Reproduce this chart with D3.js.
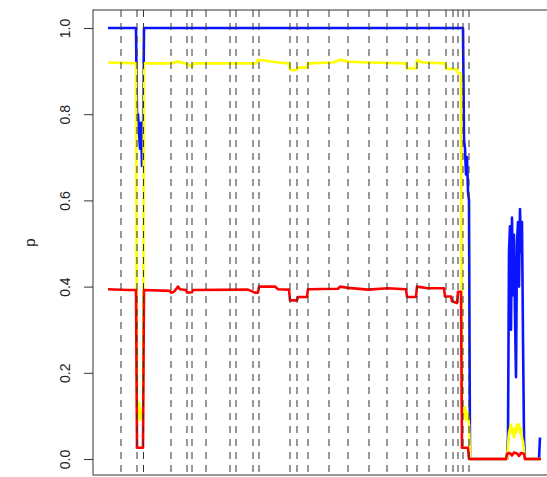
<!DOCTYPE html>
<html lang="en">
<head>
  <meta charset="UTF-8">
  <title>p over time</title>
  <script src="https://d3js.org/d3.v7.min.js"></script>
  <style>
    body { margin: 0; background: #fff; }
    svg { display: block; font-family: "Liberation Sans", Arial, sans-serif; }
  </style>
</head>
<body>
  <svg id="chart" width="547" height="477"></svg>
  <script>
    // series values as [index, p] pairs
    const bluePts = [
      [0, 1], [28, 1], [29, 0.79], [30, 0.80], [31, 0.76], [32, 0.72], [33, 0.78], [34, 0.68], [35, 0.74], [36, 1],
      [354, 1], [355, 1], [356, 0.74], [357, 0.72], [358, 0.66], [359, 0.70], [360, 0.62], [361, 0.60], [362, 0],
      [399, 0], [400, 0.05], [401, 0.48], [402, 0.54], [403, 0.30], [404, 0.56], [405, 0.38], [406, 0.52], [407, 0.33],
      [408, 0.19], [409, 0.50], [410, 0.55], [411, 0.40], [412, 0.58], [413, 0.48], [414, 0.55], [415, 0.28],
      [416, 0.05], [417, 0], [431, 0], [432, 0.05]
    ];
    const yellowPts = [
      [0, 0.92], [28, 0.918], [29, 0.12], [30, 0.10], [31, 0.13], [32, 0.09], [33, 0.11], [34, 0.10], [35, 0.12], [36, 0.918],
      [62, 0.918], [70, 0.922], [80, 0.916], [84, 0.91], [86, 0.918], [148, 0.918], [150, 0.926], [158, 0.924], [170, 0.92],
      [181, 0.918], [182, 0.903], [188, 0.902], [190, 0.908], [199, 0.908], [200, 0.918], [225, 0.92], [232, 0.926],
      [240, 0.922], [260, 0.92], [298, 0.918], [299, 0.906], [308, 0.906], [309, 0.925], [315, 0.92], [337, 0.918],
      [338, 0.906], [349, 0.904], [350, 0.896], [353, 0.894], [354, 0.12], [356, 0.10], [357, 0.12], [358, 0.09],
      [359, 0.11], [360, 0.10], [361, 0.08], [362, 0], [399, 0], [400, 0.03], [401, 0.06], [402, 0.07], [403, 0.08],
      [404, 0.06], [405, 0.07], [406, 0.05], [407, 0.07], [408, 0.06], [409, 0.08], [410, 0.07], [411, 0.08],
      [412, 0.06], [413, 0.07], [414, 0.05], [415, 0.04], [416, 0.02], [417, 0], [433, 0]
    ];
    const redPts = [
      [0, 0.394], [20, 0.392], [28, 0.392], [29, 0.026], [35, 0.026], [36, 0.392], [62, 0.39], [63, 0.386], [66, 0.388],
      [70, 0.40], [72, 0.394], [78, 0.392], [79, 0.386], [84, 0.387], [85, 0.392], [140, 0.393], [147, 0.386],
      [150, 0.386], [151, 0.40], [167, 0.40], [170, 0.394], [181, 0.393], [182, 0.368], [189, 0.368], [190, 0.376],
      [199, 0.376], [200, 0.394], [230, 0.395], [232, 0.40], [240, 0.397], [260, 0.393], [280, 0.396], [298, 0.394],
      [299, 0.376], [308, 0.376], [309, 0.40], [320, 0.396], [336, 0.396], [337, 0.377], [343, 0.377], [344, 0.366],
      [349, 0.362], [350, 0.388], [353, 0.388], [354, 0.026], [360, 0.026], [361, 0], [398, 0], [399, 0.012],
      [402, 0.014], [404, 0.008], [406, 0.015], [409, 0.013], [411, 0.007], [413, 0.014], [416, 0.012], [417, 0], [433, 0]
    ];
    // change points drawn as dashed verticals
    const cutPoints = [13, 29, 35.5, 63, 79, 84, 98, 122, 128, 145, 151, 182, 189, 200, 221, 240, 261, 279,
      299, 309, 321, 338, 345, 350, 355, 361];
    const yTicks = [0, 0.2, 0.4, 0.6, 0.8, 1.0];

    const seriesList = [
      { pts: bluePts, color: "#0a14ff" },
      { pts: yellowPts, color: "#ffff00" },
      { pts: redPts, color: "#ff0000" }
    ];

    const box = { left: 93, top: 10, bottom: 475, right: 600 };
    const svg = d3.select("#chart");

    const xScale = d3.scaleLinear().domain([0, 433]).range([108, 541]);
    const yScale = d3.scaleLinear().domain([0, 1]).range([459, 28]);

    const line = d3.line()
      .x(d => xScale(d[0]))
      .y(d => yScale(d[1]));

    seriesList.forEach(s => {
      svg.append("path")
        .datum(s.pts)
        .attr("fill", "none")
        .attr("stroke", s.color)
        .attr("stroke-width", 2.6)
        .attr("stroke-linejoin", "round")
        .attr("d", line);
    });

    svg.append("g")
      .selectAll("line")
      .data(cutPoints)
      .join("line")
      .attr("x1", d => xScale(d))
      .attr("x2", d => xScale(d))
      .attr("y1", box.top)
      .attr("y2", box.bottom)
      .attr("stroke", "#333")
      .attr("stroke-width", 1)
      .attr("stroke-dasharray", "7,6");

    svg.append("rect")
      .attr("x", box.left)
      .attr("y", box.top)
      .attr("width", box.right - box.left)
      .attr("height", box.bottom - box.top)
      .attr("fill", "none")
      .attr("stroke", "#333")
      .attr("stroke-width", 1);

    const yAxis = svg.append("g")
      .attr("transform", `translate(${box.left},0)`)
      .call(d3.axisLeft(yScale).tickValues(yTicks).tickSize(9).tickFormat(d3.format(".1f")));
    yAxis.select(".domain").remove();
    yAxis.selectAll(".tick line").attr("stroke", "#333");
    yAxis.selectAll(".tick text")
      .attr("transform", "rotate(-90)")
      .attr("x", 0)
      .attr("y", -23)
      .attr("dy", 0)
      .style("text-anchor", "middle")
      .style("font-size", "14px")
      .style("font-family", "Liberation Sans, Arial, sans-serif")
      .attr("fill", "#222");

    svg.append("text")
      .attr("transform", `translate(35,${(box.top + box.bottom) / 2}) rotate(-90)`)
      .attr("text-anchor", "middle")
      .style("font-size", "15px")
      .attr("fill", "#222")
      .text("p");
  </script>
</body>
</html>
